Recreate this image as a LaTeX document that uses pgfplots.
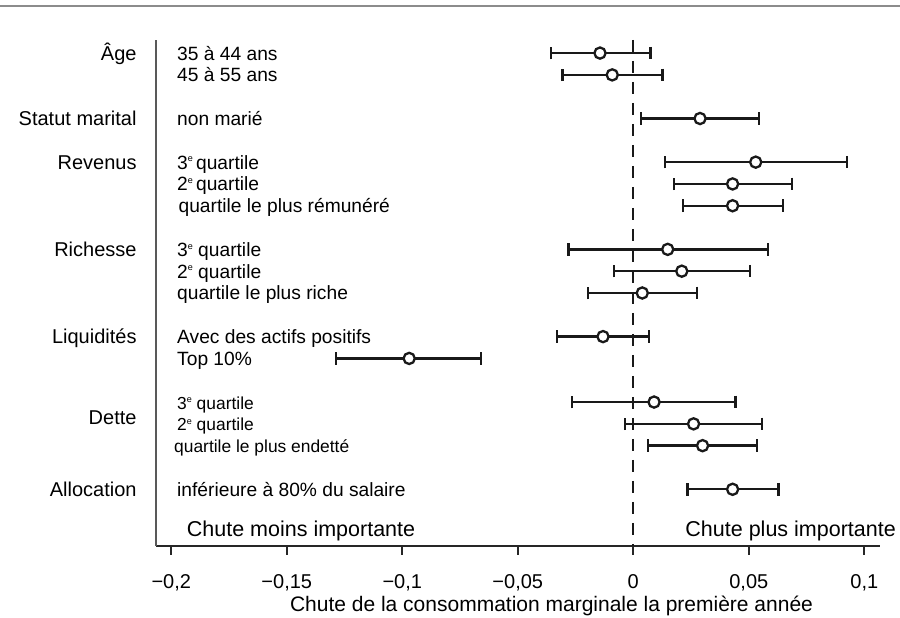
\documentclass[border=0pt]{standalone}
\usepackage{fontspec}
\setmainfont{Liberation Sans}
\usepackage{pgfplots}
\pgfplotsset{compat=1.18}
\usepackage{pgfplotstable}

\pgfplotstableread{
y x em ep
0 -0.0144 0.0212 0.0219
1 -0.0091 0.0215 0.0218
3 0.0289 0.0256 0.0256
5 0.0530 0.0393 0.0394
6 0.0430 0.0254 0.0256
7 0.0430 0.0214 0.0217
9 0.0149 0.0430 0.0435
10 0.0210 0.0294 0.0295
11 0.0039 0.0235 0.0238
13 -0.0131 0.0198 0.0198
14 -0.0970 0.0317 0.0312
16 0.0090 0.0354 0.0352
17 0.0261 0.0297 0.0295
18 0.0300 0.0236 0.0235
20 0.0430 0.0196 0.0198
}\ci

\newcommand{\grpfont}{\fontsize{20}{24}\selectfont}
\newcommand{\subfont}{\fontsize{19.2}{23}\selectfont}
\newcommand{\detfont}{\fontsize{17.4}{21}\selectfont}
\newcommand{\supe}{\raisebox{0.72ex}{\fontsize{9}{9}\selectfont e}}

\begin{document}
\begin{tikzpicture}
\path[use as bounding box] (-156pt,-72pt) rectangle (744pt,546pt);
\draw[black!45, line width=1.5pt] (-156pt,540pt) -- (744pt,540pt);
\begin{axis}[
  at={(0pt,0pt)}, anchor=south west,
  scale only axis, width=724pt, height=506pt,
  xmin=-0.2066, xmax=0.1068, ymin=-22.6, ymax=0.6,
  axis x line*=bottom, axis y line*=left,
  x axis line style={line width=1.7pt, black!85},
  y axis line style={line width=1.7pt, black!65},
  xtick={-0.2,-0.15,-0.1,-0.05,0,0.05,0.1},
  xticklabels={{−0,2},{−0,15},{−0,1},{−0,05},{0},{0,05},{0,1}},
  xtick pos=left, ytick=\empty,
  tick align=outside, major tick length=9pt,
  x tick style={line width=1.7pt, black!85},
  xticklabel style={anchor=base, yshift=-34pt, font=\fontsize{20}{24}\selectfont},
  xticklabel shift=0pt,
  xlabel={Chute de la consommation marginale la première année},
  xlabel style={at={(axis description cs:0.5463,0)}, anchor=base, yshift=-65.7pt, font=\fontsize{21}{25}\selectfont},
  clip=false,
]
\addplot[black!90, line width=2.4pt, dash pattern=on 12pt off 9pt] coordinates {(0,0.6) (0,-22.6)};
\addplot[black!90, only marks, mark=*, mark size=5.6pt,
  mark options={fill=white, draw=black!90, line width=2.3pt},
  error bars/.cd, x dir=both, x explicit,
  error bar style={line width=2.4pt, black!90},
  error mark options={line width=2.4pt, mark size=6.3pt, black!90, rotate=90}]
  table[x=x, y expr=-\thisrow{y}, x error plus=ep, x error minus=em] {\ci};

% group labels
\node[anchor=base east, yshift=-7pt, font=\grpfont] at (axis cs:-0.2135,0) {Âge};
\node[anchor=base east, yshift=-7pt, font=\grpfont] at (axis cs:-0.2135,-3) {Statut marital};
\node[anchor=base east, yshift=-7pt, font=\grpfont] at (axis cs:-0.2135,-5) {Revenus};
\node[anchor=base east, yshift=-7pt, font=\grpfont] at (axis cs:-0.2135,-9) {Richesse};
\node[anchor=base east, yshift=-7pt, font=\grpfont] at (axis cs:-0.2135,-13) {Liquidités};
\node[anchor=base east, yshift=-7pt, font=\grpfont] at (axis cs:-0.2135,-16.7) {Dette};
\node[anchor=base east, yshift=-7pt, font=\grpfont] at (axis cs:-0.2135,-20) {Allocation};
% sub labels
\node[anchor=base west, yshift=-7pt, font=\subfont, inner sep=0pt] at (axis cs:-0.1975,0) {35 à 44 ans};
\node[anchor=base west, yshift=-7pt, font=\subfont, inner sep=0pt] at (axis cs:-0.1975,-1) {45 à 55 ans};
\node[anchor=base west, yshift=-7pt, font=\subfont, inner sep=0pt] at (axis cs:-0.1975,-3) {non marié};
\node[anchor=base west, yshift=-7pt, font=\subfont, inner sep=0pt] at (axis cs:-0.1975,-5) {3\supe\,quartile};
\node[anchor=base west, yshift=-7pt, font=\subfont, inner sep=0pt] at (axis cs:-0.1975,-6) {2\supe\,quartile};
\node[anchor=base west, yshift=-7pt, font=\subfont, inner sep=0pt] at (axis cs:-0.1969,-7) {quartile le plus rémunéré};
\node[anchor=base west, yshift=-7pt, font=\subfont, inner sep=0pt] at (axis cs:-0.1975,-9) {3\supe{} quartile};
\node[anchor=base west, yshift=-7pt, font=\subfont, inner sep=0pt] at (axis cs:-0.1975,-10) {2\supe{} quartile};
\node[anchor=base west, yshift=-7pt, font=\subfont, inner sep=0pt] at (axis cs:-0.1975,-11) {quartile le plus riche};
\node[anchor=base west, yshift=-7pt, font=\subfont, inner sep=0pt] at (axis cs:-0.1975,-13) {Avec des actifs positifs};
\node[anchor=base west, yshift=-7pt, font=\subfont, inner sep=0pt] at (axis cs:-0.1975,-14) {Top 10\%};
\node[anchor=base west, yshift=-7pt, font=\detfont, inner sep=0pt] at (axis cs:-0.1975,-16) {3\supe{} quartile};
\node[anchor=base west, yshift=-7pt, font=\detfont, inner sep=0pt] at (axis cs:-0.1975,-17) {2\supe{} quartile};
\node[anchor=base west, yshift=-7pt, font=\detfont, inner sep=0pt] at (axis cs:-0.1988,-18) {quartile le plus endetté};
\node[anchor=base west, yshift=-7pt, font=\subfont, inner sep=0pt] at (axis cs:-0.1975,-20) {inférieure à 80\% du salaire};
% direction notes
\node[anchor=base west, yshift=9pt, inner sep=0pt, font=\fontsize{21.5}{25}\selectfont] at (axis description cs:0.0424,0) {Chute moins importante};
\node[anchor=base east, yshift=9pt, inner sep=0pt, font=\fontsize{21.5}{25}\selectfont] at (axis description cs:1.0221,0) {Chute plus importante};
\end{axis}
\end{tikzpicture}
\end{document}
